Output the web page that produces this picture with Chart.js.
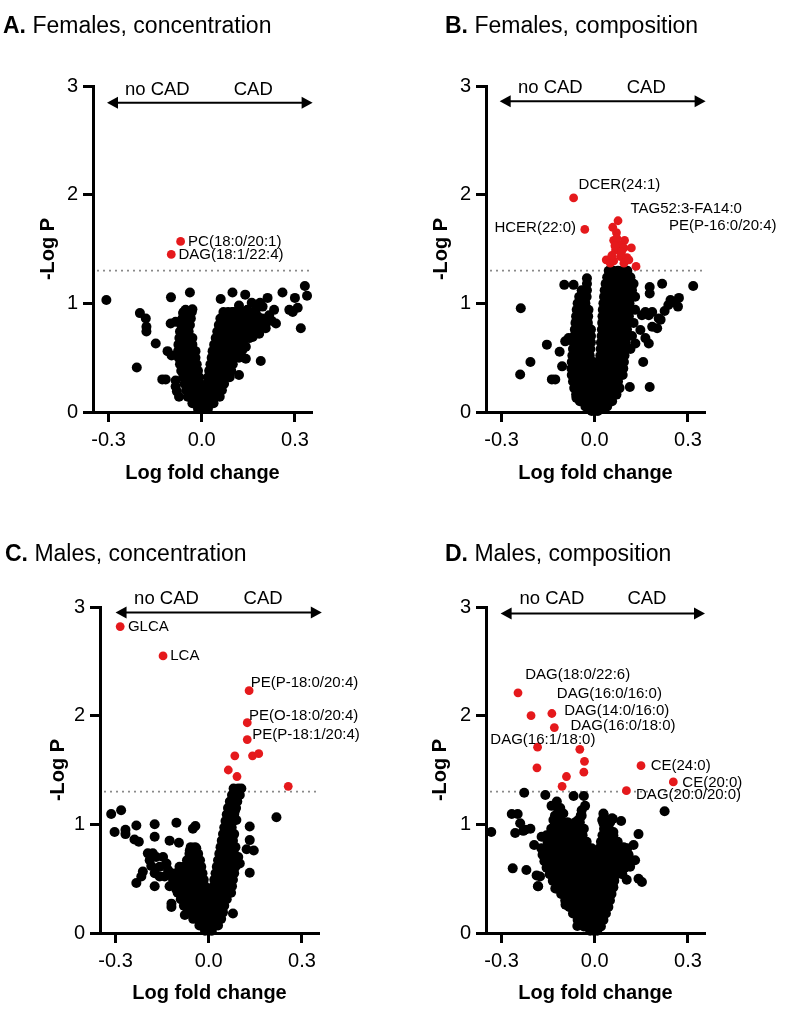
<!DOCTYPE html>
<html>
<head>
<meta charset="utf-8">
<script src="https://cdn.jsdelivr.net/npm/chart.js@4.4.1/dist/chart.umd.min.js"></script>
<style>
  html, body { margin: 0; padding: 0; background: #fff; }
  body { position: relative; width: 787px; height: 1015px; overflow: hidden; }
  canvas { position: absolute; }
  .ttl { position: absolute; font: 23px/23px 'Liberation Sans', Arial, sans-serif; color: #000; white-space: nowrap; z-index: 2; }
</style>
</head>
<body>
<canvas id="cA" width="393" height="500" style="left:0;top:0"></canvas>
<canvas id="cB" width="394" height="500" style="left:393px;top:0"></canvas>
<canvas id="cC" width="393" height="515" style="left:0;top:500px"></canvas>
<canvas id="cD" width="394" height="515" style="left:393px;top:500px"></canvas>
<div class="ttl" style="left:3px;top:14px"><b>A.</b> Females, concentration</div>
<div class="ttl" style="left:445px;top:14px"><b>B.</b> Females, composition</div>
<div class="ttl" style="left:5px;top:542px"><b>C.</b> Males, concentration</div>
<div class="ttl" style="left:445px;top:542px"><b>D.</b> Males, composition</div>
<script>
// ---------- shared axis values ----------
const xTickValues = [-0.3, 0, 0.3];
const yTickValues = [0, 1, 2, 3];
const sigThreshold = 1.301;          // -log10(0.05)
const groupNames = ['no CAD', 'CAD'];
const xAxisTitle = 'Log fold change';
const yAxisTitle = '-Log P';

// ---------- A. Females, concentration ----------
const aRed = [[-0.068,1.57],[-0.098,1.45]];
const aLabels = ['PC(18:0/20:1)','DAG(18:1/22:4)'];
const aLabelAt = [[-0.044,1.57],[-0.075,1.445]];
const aBlack = [
[-0.307,1.03],[-0.099,1.055],[-0.038,1.10],[-0.199,0.91],[-0.18,0.86],[-0.178,0.785],[-0.178,0.74],[-0.148,0.63],[-0.209,0.41],[-0.127,0.30],[-0.116,0.30],[-0.084,0.29],[-0.084,0.235],[-0.073,0.14],[-0.08,0.19],[-0.11,0.56],[-0.097,0.52],[-0.10,0.815],[-0.084,0.83],[-0.06,0.91],[-0.052,0.94],[-0.03,0.945],
[0.061,1.04],[0.099,1.10],[0.14,1.08],[0.161,1.005],[0.188,1.005],[0.212,1.05],[0.26,1.10],[0.30,1.05],[0.332,1.16],[0.339,1.07],[0.282,0.94],[0.293,0.92],[0.309,0.96],[0.319,0.77],[0.19,0.47],[0.12,0.34],[0.142,0.49],[0.12,0.98],[0.147,0.94],[0.174,0.94],[0.196,0.97],[0.233,0.94],[0.239,0.815],[0.217,0.89],[0.206,0.77],[0.185,0.72],[0.164,0.69],[0.072,0.91],[0.088,0.89],[0.11,0.85],[0.131,0.80],[0.147,0.74],[0.169,0.85],[0.142,0.60],[0.131,0.57],[0.153,0.68],
[0.18,0.88],[0.225,0.84],[0.19,0.8],[0.175,0.78],[0.21,0.83],[0.155,0.82],[0.16,0.9],[0.13,0.88],[0.1,0.92],[0.195,0.86]
];
const aRows = [
[0.92,[-0.058,-0.045,-0.032,0.07,0.085,0.10,0.115,0.13]],
[0.86,[-0.062,-0.048,-0.035,0.06,0.075,0.09,0.105,0.12,0.14]],
[0.80,[-0.066,-0.052,-0.038,0.055,0.07,0.085,0.10,0.115,0.13,0.15]],
[0.74,[-0.07,-0.056,-0.042,0.05,0.065,0.08,0.095,0.11,0.125,0.14,0.16]],
[0.68,[-0.072,-0.058,-0.044,-0.03,0.045,0.06,0.075,0.09,0.105,0.12,0.135]],
[0.62,[-0.075,-0.06,-0.045,-0.03,0.04,0.055,0.07,0.085,0.10,0.115,0.13]],
[0.56,[-0.076,-0.062,-0.047,-0.032,-0.02,0.035,0.05,0.065,0.08,0.095,0.11,0.125]],
[0.50,[-0.074,-0.06,-0.046,-0.032,-0.02,0.032,0.046,0.06,0.075,0.09,0.105,0.12]],
[0.44,[-0.07,-0.056,-0.042,-0.028,-0.016,0.028,0.042,0.056,0.07,0.085,0.10]],
[0.38,[-0.066,-0.052,-0.038,-0.025,-0.012,0.024,0.038,0.052,0.066,0.08,0.095]],
[0.32,[-0.06,-0.047,-0.034,-0.021,-0.008,0.02,0.034,0.048,0.062,0.076,0.09]],
[0.26,[-0.055,-0.042,-0.03,-0.018,-0.006,0.016,0.03,0.044,0.058,0.072]],
[0.20,[-0.05,-0.038,-0.026,-0.014,-0.003,0.012,0.025,0.038,0.052,0.065]],
[0.14,[-0.045,-0.033,-0.021,-0.01,0.0,0.008,0.02,0.032,0.045,0.058]],
[0.08,[-0.03,-0.018,-0.008,0.002,0.015,0.026,0.038]],
[0.03,[-0.012,-0.004,0.004,0.01,0.02]]
];

// ---------- B. Females, composition ----------
const bRed = [[-0.068,1.97],[-0.032,1.68],[0.075,1.76],[0.058,1.70],[0.07,1.65],[0.061,1.58],[0.096,1.58],[0.077,1.54],[0.094,1.51],[0.118,1.51],[0.067,1.49],[0.083,1.43],[0.104,1.42],[0.037,1.40],[0.05,1.37],[0.133,1.34],[0.094,1.37],[0.11,1.40],[0.061,1.39],[0.055,1.44],[0.071,1.60],[0.086,1.47],[0.065,1.53]];
const bLabels = ['DCER(24:1)','HCER(22:0)','TAG52:3-FA14:0','PE(P-16:0/20:4)'];
const bLabelAt = [[-0.052,2.09],[-0.060,1.69],[0.115,1.87],[0.239,1.71]];
const bBlack = [
[-0.238,0.955],[-0.24,0.345],[-0.207,0.46],[-0.154,0.62],[-0.138,0.30],[-0.127,0.30],[-0.105,0.42],[-0.113,0.555],[-0.095,0.65],[-0.084,0.68],[-0.098,1.17],[-0.068,1.17],[-0.025,1.23],[-0.025,1.12],[-0.043,1.045],[-0.059,0.13],
[0.113,0.23],[0.177,0.23],[0.156,0.46],[0.174,0.63],[0.177,1.15],[0.177,1.09],[0.217,1.18],[0.317,1.16],[0.271,1.05],[0.255,1.015],[0.268,0.97],[0.244,1.03],[0.237,0.985],[0.212,0.85],[0.201,0.77],[0.185,0.785],[0.174,0.89],[0.185,0.92],[0.206,0.86],[0.163,0.92],[0.152,0.89],[0.147,0.755],[0.163,0.68],[0.131,0.63],[0.225,0.93]
];
const bRows = [
[1.30,[0.045,0.06,0.075,0.09,0.105]],
[1.24,[0.04,0.055,0.07,0.085,0.10,0.115]],
[1.18,[-0.025,0.035,0.05,0.065,0.08,0.095,0.11,0.125]],
[1.12,[-0.042,-0.03,0.032,0.046,0.06,0.075,0.09,0.105,0.12]],
[1.06,[-0.05,-0.038,-0.026,0.03,0.044,0.058,0.072,0.086,0.10,0.115,0.13]],
[1.00,[-0.055,-0.042,-0.03,0.028,0.042,0.056,0.07,0.084,0.098,0.112]],
[0.94,[-0.058,-0.045,-0.032,-0.02,0.026,0.04,0.054,0.068,0.082,0.096,0.11,0.13]],
[0.88,[-0.06,-0.047,-0.034,-0.021,0.025,0.038,0.052,0.066,0.08,0.094,0.11]],
[0.82,[-0.062,-0.049,-0.036,-0.022,0.024,0.037,0.05,0.064,0.078,0.092,0.106,0.125]],
[0.76,[-0.064,-0.05,-0.037,-0.024,-0.012,0.023,0.036,0.049,0.062,0.076,0.09,0.104]],
[0.70,[-0.066,-0.052,-0.038,-0.025,-0.012,0.022,0.035,0.048,0.061,0.074,0.088,0.102,0.12]],
[0.64,[-0.068,-0.054,-0.04,-0.026,-0.012,0.02,0.033,0.046,0.06,0.073,0.086,0.10]],
[0.58,[-0.07,-0.056,-0.042,-0.028,-0.014,0.019,0.032,0.045,0.058,0.071,0.084,0.098,0.115]],
[0.52,[-0.072,-0.058,-0.044,-0.03,-0.016,0.018,0.031,0.044,0.057,0.07,0.083,0.096]],
[0.46,[-0.074,-0.06,-0.046,-0.032,-0.018,-0.004,0.016,0.029,0.042,0.055,0.068,0.081,0.094]],
[0.40,[-0.075,-0.061,-0.047,-0.033,-0.019,-0.005,0.014,0.027,0.04,0.053,0.066,0.079,0.092]],
[0.34,[-0.074,-0.06,-0.046,-0.032,-0.018,-0.004,0.012,0.025,0.038,0.051,0.064,0.077,0.09]],
[0.28,[-0.07,-0.056,-0.042,-0.028,-0.014,0.0,0.012,0.024,0.036,0.049,0.062,0.075]],
[0.22,[-0.066,-0.052,-0.038,-0.024,-0.01,0.004,0.018,0.03,0.042,0.055,0.068,0.08]],
[0.16,[-0.06,-0.046,-0.032,-0.018,-0.004,0.01,0.022,0.034,0.046,0.058,0.07]],
[0.10,[-0.048,-0.034,-0.02,-0.006,0.008,0.02,0.032,0.044,0.056]],
[0.05,[-0.03,-0.016,-0.003,0.006,0.016,0.028,0.04]],
[0.01,[-0.01,0.0,0.01]]
];

// ---------- C. Males, concentration ----------
const cRed = [[-0.285,2.82],[-0.147,2.55],[0.13,2.23],[0.124,1.935],[0.124,1.78],[0.141,1.63],[0.161,1.65],[0.084,1.63],[0.063,1.50],[0.091,1.44],[0.256,1.35]];
const cLabels = ['GLCA','LCA','PE(P-18:0/20:4)','PE(O-18:0/20:4)','PE(P-18:1/20:4)'];
const cLabelAt = [[-0.26,2.82],[-0.124,2.55],[0.135,2.30],[0.13,2.0],[0.14,1.82]];
const cBlack = [
[-0.314,1.095],[-0.282,1.13],[-0.303,0.93],[-0.268,0.95],[-0.268,0.91],[-0.233,0.99],[-0.239,0.86],[-0.225,0.84],[-0.174,1.0],[-0.174,0.885],[-0.104,1.015],[-0.126,0.85],[-0.096,0.83],[-0.051,0.96],[-0.043,0.985],
[-0.196,0.733],[-0.18,0.733],[-0.19,0.67],[-0.169,0.70],[-0.147,0.70],[-0.185,0.617],[-0.158,0.61],[-0.136,0.64],[-0.131,0.58],[-0.174,0.55],[-0.158,0.52],[-0.212,0.565],[-0.217,0.52],[-0.233,0.46],[-0.174,0.43],[-0.142,0.52],
[-0.12,0.27],[-0.12,0.24],[-0.077,0.165],[-0.061,0.76],[-0.04,0.78],[-0.061,0.67],[-0.046,0.64],[-0.094,0.61],[-0.088,0.58],[-0.072,0.53],[-0.126,0.43],[-0.104,0.40],[-0.088,0.46],
[0.218,1.065],[0.132,0.98],[0.132,0.855],[0.122,0.77],[0.145,0.76],[0.132,0.555],[0.10,0.64],[0.089,1.04],[0.084,1.12],[0.078,0.18],[0.095,0.70]
];
const cRows = [
[1.33,[0.08,0.095,0.105]],
[1.27,[0.075,0.088,0.10]],
[1.21,[0.068,0.08,0.092]],
[1.15,[0.062,0.075,0.088]],
[1.09,[0.058,0.07,0.082]],
[1.03,[0.054,0.066,0.078]],
[0.97,[0.05,0.062,0.074]],
[0.91,[0.046,0.058,0.07,0.082]],
[0.85,[0.042,0.054,0.066,0.078]],
[0.79,[-0.058,-0.044,0.038,0.05,0.062,0.074,0.086]],
[0.73,[-0.062,-0.048,-0.034,0.034,0.046,0.058,0.07,0.082]],
[0.67,[-0.07,-0.056,-0.042,-0.028,0.03,0.042,0.054,0.066,0.078]],
[0.61,[-0.08,-0.066,-0.052,-0.038,-0.024,0.026,0.038,0.05,0.062,0.074,0.086]],
[0.55,[-0.12,-0.105,-0.09,-0.076,-0.062,-0.048,-0.034,-0.02,0.022,0.034,0.046,0.058,0.07,0.082]],
[0.49,[-0.115,-0.1,-0.086,-0.072,-0.058,-0.044,-0.03,-0.016,0.018,0.03,0.042,0.054,0.066,0.078]],
[0.43,[-0.11,-0.096,-0.082,-0.068,-0.054,-0.04,-0.026,-0.012,0.015,0.027,0.039,0.051,0.063,0.075]],
[0.37,[-0.1,-0.086,-0.072,-0.058,-0.044,-0.03,-0.016,-0.004,0.012,0.024,0.036,0.048,0.06,0.072]],
[0.31,[-0.09,-0.076,-0.062,-0.048,-0.034,-0.02,-0.006,0.01,0.022,0.034,0.046,0.058]],
[0.25,[-0.08,-0.066,-0.052,-0.038,-0.024,-0.01,0.002,0.014,0.026,0.038,0.05]],
[0.19,[-0.068,-0.054,-0.04,-0.026,-0.012,0.0,0.012,0.024,0.036,0.046]],
[0.13,[-0.05,-0.036,-0.022,-0.008,0.004,0.016,0.028,0.04]],
[0.07,[-0.03,-0.018,-0.006,0.006,0.018,0.03]],
[0.02,[-0.012,0.0,0.01]]
];

// ---------- D. Males, composition ----------
const dRed = [[-0.247,2.21],[-0.205,2.0],[-0.138,2.02],[-0.13,1.89],[-0.184,1.71],[-0.048,1.69],[-0.033,1.58],[-0.186,1.52],[-0.035,1.48],[-0.091,1.44],[-0.105,1.35],[0.149,1.54],[0.253,1.39],[0.102,1.31]];
const dLabels = ['DAG(18:0/22:6)','DAG(16:0/16:0)','DAG(14:0/16:0)','DAG(16:0/18:0)','DAG(16:1/18:0)','CE(24:0)','CE(20:0)','DAG(20:0/20:0)'];
const dLabelAt = [[-0.224,2.38],[-0.122,2.20],[-0.098,2.045],[-0.078,1.91],[-0.336,1.78],[0.18,1.54],[0.282,1.38],[0.133,1.27]];
const dBlack = [
[-0.333,0.93],[-0.227,1.29],[-0.159,1.27],[0.225,1.12],[-0.264,0.595],[-0.22,0.58],[-0.183,0.43],[-0.267,1.095],[-0.248,1.095],[-0.256,0.92],[-0.24,1.01],[-0.224,0.95],[-0.207,0.96],[-0.23,0.94],[-0.195,0.81],[-0.171,0.885],[-0.155,0.90],[-0.166,0.73],[-0.149,0.75],[-0.187,0.53],[-0.176,0.52],[-0.182,0.43],[-0.123,0.41],[-0.094,0.26],[-0.056,0.065],
[-0.139,1.17],[-0.117,1.13],[-0.101,1.10],[-0.133,1.04],[-0.128,1.01],[-0.085,1.01],[-0.09,0.95],[-0.053,1.04],[-0.042,1.13],[-0.068,1.26],[-0.035,1.26],[-0.031,1.17],[-0.042,1.08],[-0.122,1.21],[-0.111,1.15],
[0.028,1.10],[0.028,1.01],[0.058,1.05],[0.085,1.03],[0.056,1.055],[0.029,1.085],[0.024,1.04],[0.06,0.93],[0.141,0.91],[0.125,0.81],[0.093,0.79],[0.109,0.72],[0.13,0.67],[0.114,0.61],[0.141,0.50],[0.152,0.47],[0.071,0.72],[0.039,0.84],[0.044,0.90],[0.103,0.49],[0.087,0.58],[-0.091,0.26],[-0.127,0.41]
];
const dRows = [
[1.08,[-0.128,-0.112,-0.045]],
[1.02,[-0.122,-0.105,-0.088,-0.062,-0.048,0.032,0.05]],
[0.96,[-0.14,-0.122,-0.104,-0.086,-0.068,-0.05,-0.035,0.03,0.046]],
[0.90,[-0.147,-0.129,-0.111,-0.093,-0.075,-0.057,-0.039,0.025,0.043,0.06]],
[0.84,[-0.152,-0.134,-0.116,-0.098,-0.08,-0.062,-0.044,-0.026,0.02,0.038,0.056,0.074]],
[0.78,[-0.172,-0.154,-0.136,-0.118,-0.1,-0.082,-0.064,-0.046,-0.028,-0.01,0.015,0.033,0.051,0.069,0.087,0.105]],
[0.72,[-0.168,-0.15,-0.132,-0.114,-0.096,-0.078,-0.06,-0.042,-0.024,-0.006,0.012,0.03,0.048,0.066,0.084,0.102]],
[0.66,[-0.162,-0.144,-0.126,-0.108,-0.09,-0.072,-0.054,-0.036,-0.018,0.0,0.014,0.032,0.05,0.068,0.086,0.104]],
[0.60,[-0.155,-0.137,-0.119,-0.101,-0.083,-0.065,-0.047,-0.029,-0.011,0.007,0.025,0.043,0.061,0.079,0.097]],
[0.54,[-0.145,-0.127,-0.109,-0.091,-0.073,-0.055,-0.037,-0.019,-0.001,0.017,0.035,0.053,0.071,0.089]],
[0.48,[-0.135,-0.117,-0.099,-0.081,-0.063,-0.045,-0.027,-0.009,0.009,0.027,0.045,0.063]],
[0.42,[-0.12,-0.102,-0.084,-0.066,-0.048,-0.03,-0.012,0.006,0.024,0.042,0.06]],
[0.36,[-0.108,-0.09,-0.072,-0.054,-0.036,-0.018,0.0,0.018,0.036,0.054]],
[0.30,[-0.095,-0.077,-0.059,-0.041,-0.023,-0.005,0.013,0.031,0.049]],
[0.24,[-0.082,-0.064,-0.046,-0.028,-0.01,0.008,0.026,0.044]],
[0.18,[-0.07,-0.052,-0.034,-0.016,0.002,0.02,0.036]],
[0.12,[-0.055,-0.038,-0.02,-0.004,0.012,0.028]],
[0.06,[-0.035,-0.02,-0.005,0.01,0.02]],
[0.02,[-0.015,-0.003,0.008]]
];

// ---------- helpers ----------
const FONT = "'Liberation Sans', Arial, Helvetica, sans-serif";
Chart.defaults.font.family = FONT;
Chart.defaults.color = '#000';

function pairs(list) { return list.map(p => ({x: p[0], y: p[1]})); }
function rowsToPoints(rows) {
  const out = [];
  rows.forEach(r => r[1].forEach(xv => out.push({x: xv, y: r[0]})));
  return out;
}

const overlay = {
  id: 'overlay',
  beforeDatasetsDraw(chart, args, o) {
    const {ctx, chartArea: ca, scales: {y}} = chart;
    const yy = y.getPixelForValue(o.threshold);
    ctx.save();
    ctx.strokeStyle = '#8a8a8a';
    ctx.lineWidth = 1.8;
    ctx.setLineDash([2, 4]);
    ctx.beginPath();
    ctx.moveTo(ca.left + 4, yy);
    ctx.lineTo(ca.right, yy);
    ctx.stroke();
    ctx.restore();
  },
  afterDatasetsDraw(chart, args, o) {
    const {ctx, scales: {x, y}} = chart;
    ctx.save();
    const ay = y.getPixelForValue(o.arrowY);
    const x1 = x.getPixelForValue(o.arrowFrom), x2 = x.getPixelForValue(o.arrowTo);
    ctx.strokeStyle = '#000'; ctx.fillStyle = '#000'; ctx.lineWidth = 2;
    ctx.beginPath(); ctx.moveTo(x1 + 8, ay); ctx.lineTo(x2 - 8, ay); ctx.stroke();
    ctx.beginPath(); ctx.moveTo(x1, ay); ctx.lineTo(x1 + 11, ay - 6); ctx.lineTo(x1 + 11, ay + 6); ctx.closePath(); ctx.fill();
    ctx.beginPath(); ctx.moveTo(x2, ay); ctx.lineTo(x2 - 11, ay - 6); ctx.lineTo(x2 - 11, ay + 6); ctx.closePath(); ctx.fill();
    ctx.font = '18.5px ' + FONT;
    ctx.textAlign = 'center'; ctx.textBaseline = 'middle';
    groupNames.forEach((g, i) => ctx.fillText(g, x.getPixelForValue(o.groupX[i]), y.getPixelForValue(o.groupY)));
    ctx.font = '15px ' + FONT;
    o.labels.forEach((t, i) => {
      ctx.textAlign = o.labelAlign[i] || 'left';
      ctx.fillText(t, x.getPixelForValue(o.labelAt[i][0]), y.getPixelForValue(o.labelAt[i][1]));
    });
    ctx.restore();
  }
};

function makePanel(cfg) {
  const grid = {display: true, drawOnChartArea: false, drawTicks: true, tickLength: 10, tickWidth: 3, tickColor: '#000', color: '#000'};
  const border = {display: true, color: '#000', width: 3};
  new Chart(document.getElementById(cfg.id), {
    type: 'scatter',
    data: {datasets: [
      {data: pairs(cfg.red), backgroundColor: '#e5191c', pointRadius: 4.4, pointHoverRadius: 4.4, borderWidth: 0, clip: false},
      {data: pairs(cfg.black).concat(rowsToPoints(cfg.rows)), backgroundColor: '#000', pointRadius: 5, pointHoverRadius: 5, borderWidth: 0, clip: false}
    ]},
    options: {
      responsive: false, animation: false, events: [],
      layout: {padding: cfg.pad},
      plugins: {
        legend: {display: false}, tooltip: {enabled: false},
        overlay: cfg.overlay
      },
      scales: {
        x: {
          type: 'linear', min: -0.35, max: 0.355,
          afterBuildTicks: s => { s.ticks = xTickValues.map(v => ({value: v})); },
          afterFit: s => { s.height = cfg.xH; s.paddingLeft = 0; s.paddingRight = 0; s.paddingTop = 0; s.paddingBottom = 0; },
          ticks: {callback: v => Number(v).toFixed(1), font: {size: 20}, color: '#000', padding: 6, maxRotation: 0, autoSkip: false},
          grid: grid, border: border,
          title: {display: true, text: xAxisTitle, font: {size: 20, weight: 'bold'}, color: '#000', padding: {top: 4, bottom: 4}}
        },
        y: {
          type: 'linear', min: 0, max: 3,
          afterBuildTicks: s => { s.ticks = yTickValues.map(v => ({value: v})); },
          afterFit: s => { s.width = cfg.yW; s.paddingLeft = 0; s.paddingRight = 0; s.paddingTop = 0; s.paddingBottom = 0; },
          ticks: {callback: v => String(v), font: {size: 20}, color: '#000', padding: 5, autoSkip: false},
          grid: grid, border: border,
          title: {display: true, text: yAxisTitle, font: {size: 20, weight: 'bold'}, color: '#000', padding: {top: cfg.yTitlePad, bottom: 4}}
        }
      }
    },
    plugins: [overlay]
  });
}

makePanel({id: 'cA', red: aRed, black: aBlack, rows: aRows,
  pad: {left: 0, top: 86, right: 81, bottom: 11}, yW: 93, xH: 77, yTitlePad: 36,
  overlay: {threshold: sigThreshold, arrowY: 2.846, arrowFrom: -0.305, arrowTo: 0.357, groupX: [-0.143, 0.166], groupY: 2.966,
    labels: aLabels, labelAt: aLabelAt, labelAlign: ['left', 'left']}});

makePanel({id: 'cB', red: bRed, black: bBlack, rows: bRows,
  pad: {left: 0, top: 86, right: 82, bottom: 11}, yW: 93, xH: 77, yTitlePad: 36,
  overlay: {threshold: sigThreshold, arrowY: 2.86, arrowFrom: -0.306, arrowTo: 0.357, groupX: [-0.143, 0.166], groupY: 2.98,
    labels: bLabels, labelAt: bLabelAt, labelAlign: ['left', 'right', 'left', 'left']}});

makePanel({id: 'cC', red: cRed, black: cBlack, rows: cRows,
  pad: {left: 0, top: 107, right: 74, bottom: 6}, yW: 100, xH: 76, yTitlePad: 46,
  overlay: {threshold: sigThreshold, arrowY: 2.95, arrowFrom: -0.30, arrowTo: 0.364, groupX: [-0.136, 0.175], groupY: 3.075,
    labels: cLabels, labelAt: cLabelAt, labelAlign: ['left', 'left', 'left', 'left', 'left']}});

makePanel({id: 'cD', red: dRed, black: dBlack, rows: dRows,
  pad: {left: 0, top: 107, right: 82, bottom: 6}, yW: 93, xH: 76, yTitlePad: 35,
  overlay: {threshold: sigThreshold, arrowY: 2.94, arrowFrom: -0.303, arrowTo: 0.355, groupX: [-0.138, 0.168], groupY: 3.07,
    labels: dLabels, labelAt: dLabelAt, labelAlign: ['left', 'left', 'left', 'left', 'left', 'left', 'left', 'left']}});
</script>
</body>
</html>
